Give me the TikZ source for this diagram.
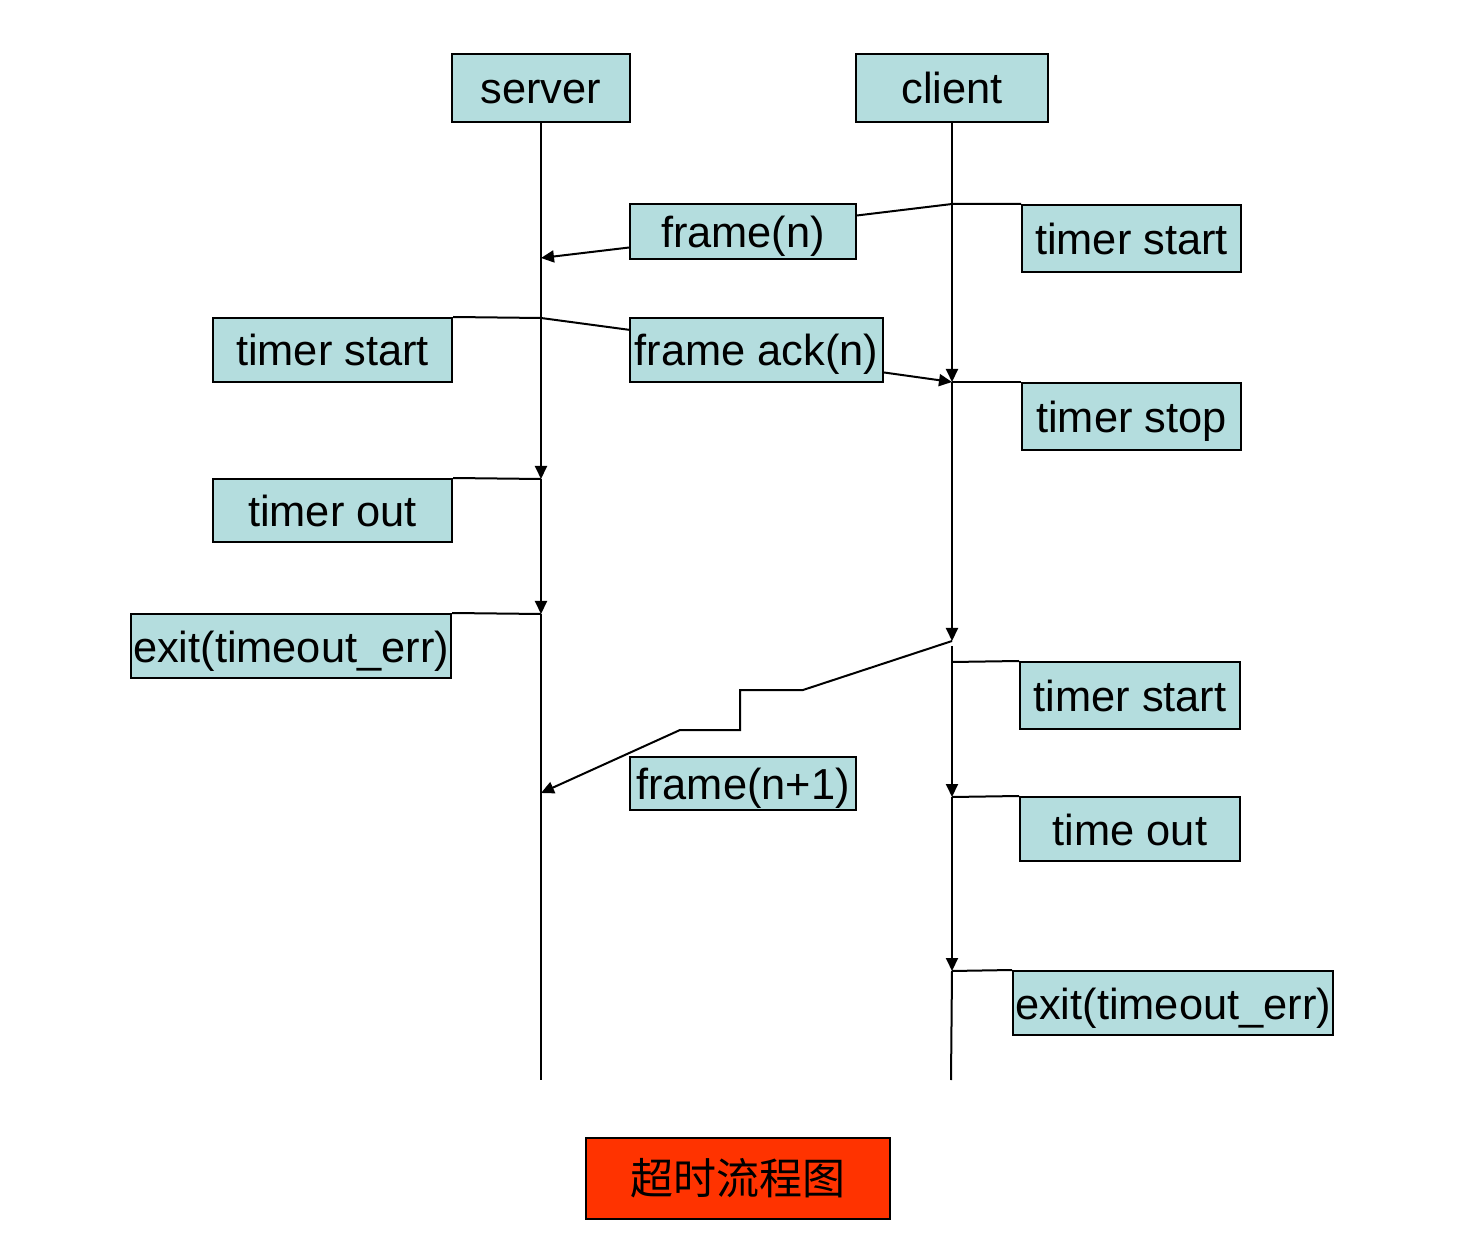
\documentclass[tikz,border=0pt]{standalone}
\usepackage{fontspec}
\setmainfont{Liberation Sans}
\newfontfamily\cjk{Noto Sans CJK SC}
\usetikzlibrary{arrows.meta}
\definecolor{boxfill}{RGB}{180,221,222}
\definecolor{titlered}{RGB}{255,51,0}

\begin{document}
\begin{tikzpicture}[x=0.5pt,y=-0.5pt,line width=1pt,
  >={Triangle[length=6.5pt,width=6pt]},
  box/.style={draw,fill=boxfill,inner sep=0pt,text height=16pt,text depth=0pt,
    font=\fontsize{21.7}{24}\selectfont}]
\useasboundingbox (0,0) rectangle (1478,1256);
% heads
\node[box,minimum width=89pt,minimum height=34pt] (server) at (541,88) {server};
\node[box,minimum width=96pt,minimum height=34pt] (client) at (952,88) {client};
% messages and states
\node[box,minimum width=113pt,minimum height=27.5pt] (frm) at (743,231.5) {frame(n)};
\node[box,minimum width=109.5pt,minimum height=33.5pt] (cstart) at (1131.5,238.5) {timer start};
\node[box,minimum width=119.5pt,minimum height=32pt] (sstart) at (332.5,350) {timer start};
\node[box,minimum width=126.5pt,minimum height=32pt] (ack) at (756.5,350) {frame ack(n)};
\node[box,minimum width=109.5pt,minimum height=33.5pt] (cstop) at (1131.5,416.5) {timer stop};
\node[box,minimum width=119.5pt,minimum height=31.5pt] (sout) at (332.5,510.5) {timer out};
\node[box,minimum width=160pt,minimum height=32pt] (sexit) at (291,646) {exit(timeout\_err)};
\node[box,minimum width=110pt,minimum height=33.5pt] (cstart2) at (1130,695.5) {timer start};
\node[box,minimum width=113pt,minimum height=26.5pt] (frmnext) at (743,783.5) {frame(n+1)};
\node[box,minimum width=110pt,minimum height=32pt] (cout) at (1130,829) {time out};
\node[box,minimum width=160pt,minimum height=32pt] (cexit) at (1173,1003) {exit(timeout\_err)};
\node[draw,fill=titlered,inner sep=0pt,minimum width=152pt,minimum height=40.5pt,
  font=\cjk\fontsize{21.5}{24}\selectfont] (title) at (738,1178.5) {超时流程图};
% points on the lifelines
\coordinate (s1) at (541,258); \coordinate (s2) at (541,318);
\coordinate (s3) at (541,479); \coordinate (s4) at (541,614);
\coordinate (s5) at (541,793); \coordinate (send) at (541,1080);
\coordinate (c1) at (952,204); \coordinate (c2) at (952,382);
\coordinate (c3) at (952,641); \coordinate (c4) at (952,646);
\coordinate (c5) at (952,797); \coordinate (c6) at (952,971);
\coordinate (cend) at (951,1080);
% lifelines
\draw[->] (server) -- (s3); \draw[->] (s3) -- (s4); \draw (s4) -- (send);
\draw[->] (client) -- (c2); \draw[->] (c2) -- (c3);
\draw[->] (c4) -- (c5); \draw[->] (c5) -- (c6); \draw (c6) -- (cend);
% connectors
\draw (cstart.north west) -- (c1) -- (frm.8);
\draw[->] (frm.188) -- (s1);
\draw (sstart.north east) -- (s2) -- (ack.171);
\draw[->] (ack.-10) -- (c2);
\draw (c2) -- (cstop.north west);
\draw (s3) -- (sout.north east);
\draw (s4) -- (sexit.north east);
\draw[->] (c3) -- (803,690) -- (740,690) -- (740,730) -- (680,730) -- (s5);
\draw (952,662) -- (cstart2.north west);
\draw (c5) -- (cout.north west);
\draw (c6) -- (cexit.north west);
\end{tikzpicture}
\end{document}
